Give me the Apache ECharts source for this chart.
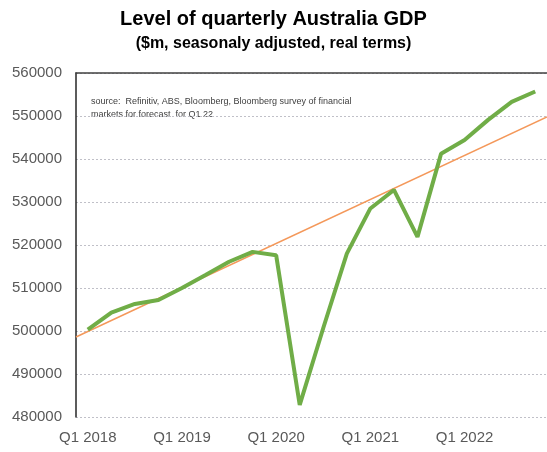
<!DOCTYPE html>
<html><head><meta charset="utf-8">
<script src="https://cdn.jsdelivr.net/npm/echarts@6/dist/echarts.min.js"></script>
<style>html,body{margin:0;padding:0;background:#fff}#c{width:547px;height:452px}</style>
</head><body><div id="c"></div>
<script>
var categories = ['Q1 2018','Q2 2018','Q3 2018','Q4 2018','Q1 2019','Q2 2019','Q3 2019','Q4 2019','Q1 2020','Q2 2020','Q3 2020','Q4 2020','Q1 2021','Q2 2021','Q3 2021','Q4 2021','Q1 2022','Q2 2022','Q3 2022','Q4 2022'];
var gdp = [500300,504300,506300,507200,510000,513000,516100,518400,517600,482800,500700,518000,528500,532800,521900,541200,544400,549100,553300,555700];
var trendX = [-0.5, 19.5];
var trendY = [498600, 549800];
var yTicks = {min:480000, max:560000, step:10000};
var sourceText = ['source:  Refinitiv, ABS, Bloomberg, Bloomberg survey of financial', 'markets for forecast  for Q1 22'];

var chart = echarts.init(document.getElementById('c'), null, {renderer:'canvas'});
var font = 'Liberation Sans, Arial, sans-serif';
chart.setOption({
  animation:false,
  backgroundColor:'#fff',
  title:[
    {text:'Level of quarterly Australia GDP', left:'center', top:4,
     textStyle:{fontFamily:font, fontSize:20, fontWeight:'bold', color:'#000'}},
    {text:'($m, seasonaly adjusted, real terms)', left:'center', top:31,
     textStyle:{fontFamily:font, fontSize:16, fontWeight:'bold', color:'#000'}}
  ],
  graphic:[{type:'text', left:91, top:95, style:{text:sourceText.join('\n'), font:'9px '+font, fill:'#404040', lineHeight:13}}],
  grid:{left:76, top:73, right:-4, bottom:35},
  xAxis:[
    {type:'category', data:categories, boundaryGap:true,
     axisLine:{show:false}, axisTick:{show:false},
     axisLabel:{interval:3, color:'#595959', fontFamily:font, fontSize:15, margin:13}},
    {type:'value', position:'top', min:-0.5, max:19.5, show:true,
     axisLine:{show:true, onZero:false, lineStyle:{color:'#404040', width:1.5}},
     axisTick:{show:false}, axisLabel:{show:false}, splitLine:{show:false}}
  ],
  yAxis:{type:'value', min:yTicks.min, max:yTicks.max, interval:yTicks.step,
    axisLine:{show:true, onZero:false, lineStyle:{color:'#262626', width:1.5}}, axisTick:{show:false},
    axisLabel:{color:'#595959', fontFamily:font, fontSize:15, margin:14, formatter:function(v){return String(v);}},
    splitLine:{lineStyle:{color:'#C0C0C8', type:[2,2], width:1}}},
  series:[
    {type:'line', xAxisIndex:1, data:trendX.map(function(x,i){return [x,trendY[i]];}),
     symbol:'none', lineStyle:{color:'#F4985A', width:1.5}, z:2},
    {type:'line', xAxisIndex:0, data:gdp, symbol:'none',
     lineStyle:{color:'#70AD47', width:4}, z:3}
  ]
});
</script></body></html>
